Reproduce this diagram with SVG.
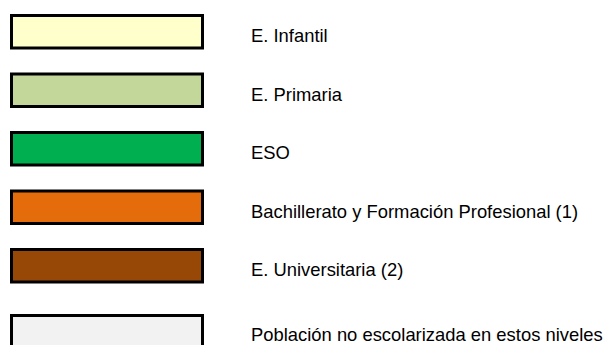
<svg xmlns="http://www.w3.org/2000/svg" width="608" height="345" viewBox="0 0 608 345">
<style>
.box{stroke:#000;stroke-width:3}
.lbl{font-family:"Liberation Sans",Arial,sans-serif;font-size:18.4px;fill:#000}
</style>
<rect width="608" height="345" fill="#fff"/>
<g id="infantil"><rect class="box" x="11.5" y="15.5" width="191" height="32.5" fill="#FFFFCC"/><text class="lbl" x="251" y="42">E. Infantil</text></g>
<g id="primaria"><rect class="box" x="11.5" y="74" width="191" height="32.5" fill="#C4D79B"/><text class="lbl" x="251" y="100.5">E. Primaria</text></g>
<g id="eso"><rect class="box" x="11.5" y="132.5" width="191" height="32.5" fill="#00B050"/><text class="lbl" x="251" y="159">ESO</text></g>
<g id="bachillerato"><rect class="box" x="11.5" y="191" width="191" height="32.5" fill="#E46C0A"/><text class="lbl" x="251" y="217.5">Bachillerato y Formación Profesional (1)</text></g>
<g id="universitaria"><rect class="box" x="11.5" y="249.5" width="191" height="32.5" fill="#974706"/><text class="lbl" x="251" y="276">E. Universitaria (2)</text></g>
<g id="no-escolarizada"><rect class="box" x="11.5" y="315.5" width="191" height="32.5" fill="#F2F2F2"/><text class="lbl" x="251" y="341">Población no escolarizada en estos niveles</text></g>
<g id="connectors"/>
</svg>
